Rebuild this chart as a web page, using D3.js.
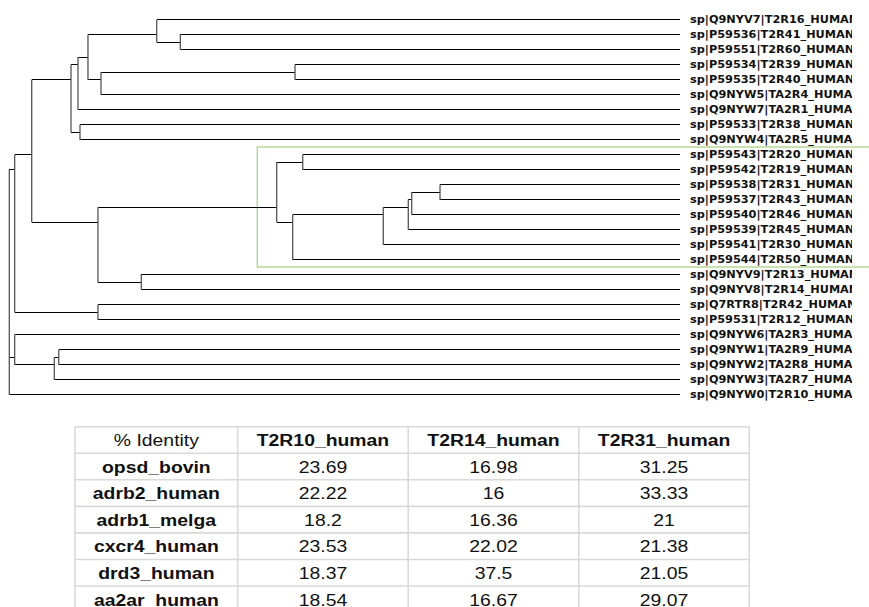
<!DOCTYPE html>
<html>
<head>
<meta charset="utf-8">
<script src="https://cdn.jsdelivr.net/npm/d3@7"></script>
<style>
  html, body { margin: 0; padding: 0; background: #fff; }
  svg { display: block; }
</style>
</head>
<body>
<script>
// ---- Tree data: leaf names and Newick topology (leaves referenced by 1-based index) ----
const leafLabels = [
  "sp|Q9NYV7|T2R16_HUMAN", "sp|P59536|T2R41_HUMAN", "sp|P59551|T2R60_HUMAN",
  "sp|P59534|T2R39_HUMAN", "sp|P59535|T2R40_HUMAN", "sp|Q9NYW5|TA2R4_HUMAN",
  "sp|Q9NYW7|TA2R1_HUMAN", "sp|P59533|T2R38_HUMAN", "sp|Q9NYW4|TA2R5_HUMAN",
  "sp|P59543|T2R20_HUMAN", "sp|P59542|T2R19_HUMAN", "sp|P59538|T2R31_HUMAN",
  "sp|P59537|T2R43_HUMAN", "sp|P59540|T2R46_HUMAN", "sp|P59539|T2R45_HUMAN",
  "sp|P59541|T2R30_HUMAN", "sp|P59544|T2R50_HUMAN", "sp|Q9NYV9|T2R13_HUMAN",
  "sp|Q9NYV8|T2R14_HUMAN", "sp|Q7RTR8|T2R42_HUMAN", "sp|P59531|T2R12_HUMAN",
  "sp|Q9NYW6|TA2R3_HUMAN", "sp|Q9NYW1|TA2R9_HUMAN", "sp|Q9NYW2|TA2R8_HUMAN",
  "sp|Q9NYW3|TA2R7_HUMAN", "sp|Q9NYW0|T2R10_HUMAN"
];

// internal branch lengths; tips are drawn aligned (cladogram-style tip extension)
const newick =
  "(" +
    "(" +
      "(" +
        "(" +
          "(" +
            "(" +
              "(1,(2,3):0.0352):0.1025," +
              "((4,5):0.2893,6):0.0194" +
            "):0.0149," +
            "7" +
          "):0.0104," +
          "(8,9):0.0134" +
        "):0.0586," +
        "(" +
          "(" +
            "(10,11):0.0388," +
            "(((((12,13):0.0422,14):0.0051,15):0.0373,16):0.1351,17):0.0238" +
          "):0.2665," +
          "(18,19):0.0646" +
        "):0.0988" +
      "):0.0254," +
      "(20,21):0.1242" +
    "):0.008," +
    "(22,((23,24):0.0066,25):0.0591):0.008," +
    "26" +
  ");";

// highlighted clade (first and last leaf of the boxed group)
const highlightClade = [10, 17];

// ---- Identity table ----
const tableCorner = "% Identity";
const tableColumns = ["T2R10_human", "T2R14_human", "T2R31_human"];
const tableRows = ["opsd_bovin", "adrb2_human", "adrb1_melga", "cxcr4_human", "drd3_human", "aa2ar_human"];
const colT2R10 = [23.69, 22.22, 18.2, 23.53, 18.37, 18.54];
const colT2R14 = [16.98, 16, 16.36, 22.02, 37.5, 16.67];
const colT2R31 = [31.25, 33.33, 21, 21.38, 21.05, 29.07];
const tableValues = [colT2R10, colT2R14, colT2R31];

// ---- Newick parser ----
function parseNewick(s) {
  const stack = [];
  let node = {};
  const tokens = s.split(/\s*(;|\(|\)|,|:)\s*/);
  for (let i = 0; i < tokens.length; i++) {
    const t = tokens[i];
    switch (t) {
      case "(": { const c = {}; node.children = [c]; stack.push(node); node = c; break; }
      case ",": { const c = {}; stack[stack.length - 1].children.push(c); node = c; break; }
      case ")": node = stack.pop(); break;
      case ":": break;
      default: {
        const prev = tokens[i - 1];
        if (prev === ")" || prev === "(" || prev === ",") node.name = t;
        else if (prev === ":") node.length = parseFloat(t);
      }
    }
  }
  return node;
}

const W = 869, H = 607;
const svg = d3.select("body").append("svg")
  .attr("width", W).attr("height", H)
  .attr("viewBox", `0 0 ${W} ${H}`);
svg.append("rect").attr("width", W).attr("height", H).attr("fill", "#fff");

// ---- Tree layout ----
const root = d3.hierarchy(parseNewick(newick));
root.eachBefore(d => { d.dist = (d.parent ? d.parent.dist : 0) + (d.parent ? (d.data.length || 0) : 0); });

const leaves = root.leaves();
const xTree = d3.scaleLinear().domain([0, 1]).range([9.3, 680]);
const yLeaf = d3.scaleLinear().domain([0, leaves.length - 1]).range([19.5, 19.5 + 15 * (leaves.length - 1)]);

leaves.forEach((l, i) => { l.px = xTree(1); l.py = yLeaf(i); l.label = leafLabels[+l.data.name - 1]; });
root.eachAfter(d => {
  if (d.children) {
    d.px = xTree(d.dist);
    d.py = d3.mean(d.leaves(), l => l.py);
  }
});

const tree = svg.append("g");

// highlight box around a clade
const hiLeaves = leaves.filter(l => +l.data.name >= highlightClade[0] && +l.data.name <= highlightClade[1]);
const hiNode = hiLeaves[0].ancestors().find(a => a.leaves().length === hiLeaves.length);
const hiTop = d3.min(hiLeaves, l => l.py) - 7.5;
const hiBot = d3.max(hiLeaves, l => l.py) + 7.5;
tree.append("rect")
  .attr("x", hiNode.px - 19.4)
  .attr("y", hiTop)
  .attr("width", W + 20 - (hiNode.px - 19.4))
  .attr("height", hiBot - hiTop)
  .attr("fill", "none")
  .attr("stroke", "#b3d88f")
  .attr("stroke-width", 1.4);

// horizontal branches
tree.append("g").selectAll("line")
  .data(root.descendants().filter(d => d.parent))
  .join("line")
  .attr("x1", d => d.parent.px)
  .attr("x2", d => d.px)
  .attr("y1", d => d.py)
  .attr("y2", d => d.py)
  .attr("stroke", "#000")
  .attr("stroke-width", 1)
  .attr("shape-rendering", "crispEdges");

// vertical connectors
tree.append("g").selectAll("line")
  .data(root.descendants().filter(d => d.children))
  .join("line")
  .attr("x1", d => d.px)
  .attr("x2", d => d.px)
  .attr("y1", d => d3.min(d.children, c => c.py))
  .attr("y2", d => d3.max(d.children, c => c.py) + 0.5)
  .attr("stroke", "#555")
  .attr("stroke-width", 1.3);

// leaf labels, clipped at the panel edge
svg.append("clipPath").attr("id", "labelClip")
  .append("rect").attr("x", 680).attr("y", 0).attr("width", 172).attr("height", 410);

const labelX = 690;
tree.append("g").attr("clip-path", "url(#labelClip)")
  .selectAll("text")
  .data(leaves)
  .join("text")
  .attr("transform", d => `translate(${labelX},${d.py + 3.6}) scale(1.13,1)`)
  .attr("font-family", "DejaVu Sans, Verdana, sans-serif")
  .attr("font-weight", "bold")
  .attr("font-size", 10)
  .attr("fill", "#111")
  .text(d => d.label);

// ---- Table ----
const table = svg.append("g");
const tLeft = 75, firstColRight = 237.7, tRight = 749.3, tTop = 426.7, rowH = 26.55;
const rowKeys = ["__header"].concat(tableRows);
const yRow = d3.scaleBand().domain(rowKeys).range([tTop, tTop + rowH * rowKeys.length]).paddingInner(0).paddingOuter(0);
const xCol = d3.scaleBand().domain(tableColumns).range([firstColRight, tRight]);

const gridColor = "#d9d9d9";
// horizontal grid lines
table.append("g").selectAll("line")
  .data(rowKeys.map(k => yRow(k)))
  .join("line")
  .attr("x1", tLeft).attr("x2", tRight)
  .attr("y1", d => d).attr("y2", d => d)
  .attr("stroke", gridColor).attr("stroke-width", 1.6);
// vertical grid lines
const colEdges = [tLeft, firstColRight].concat(tableColumns.map(c => xCol(c) + xCol.bandwidth()));
table.append("g").selectAll("line")
  .data(colEdges)
  .join("line")
  .attr("x1", d => d).attr("x2", d => d)
  .attr("y1", tTop).attr("y2", tTop + rowH * rowKeys.length)
  .attr("stroke", gridColor).attr("stroke-width", 1.6);

const sx = 1.14;
function cellText(cx, rowKey, txt, bold) {
  table.append("text")
    .attr("transform", `translate(${cx},${yRow(rowKey) + rowH / 2 + 6.3}) scale(${sx},1)`)
    .attr("text-anchor", "middle")
    .attr("font-family", "Liberation Sans, Arial, sans-serif")
    .attr("font-size", 17)
    .attr("font-weight", bold ? "bold" : "normal")
    .attr("fill", "#111")
    .text(txt);
}
const firstCx = (tLeft + firstColRight) / 2;
cellText(firstCx, "__header", tableCorner, false);
tableColumns.forEach(c => cellText(xCol(c) + xCol.bandwidth() / 2, "__header", c, true));
tableRows.forEach((r, i) => {
  cellText(firstCx, r, r, true);
  tableColumns.forEach((c, j) => cellText(xCol(c) + xCol.bandwidth() / 2, r, String(tableValues[j][i]), false));
});
</script>
</body>
</html>
